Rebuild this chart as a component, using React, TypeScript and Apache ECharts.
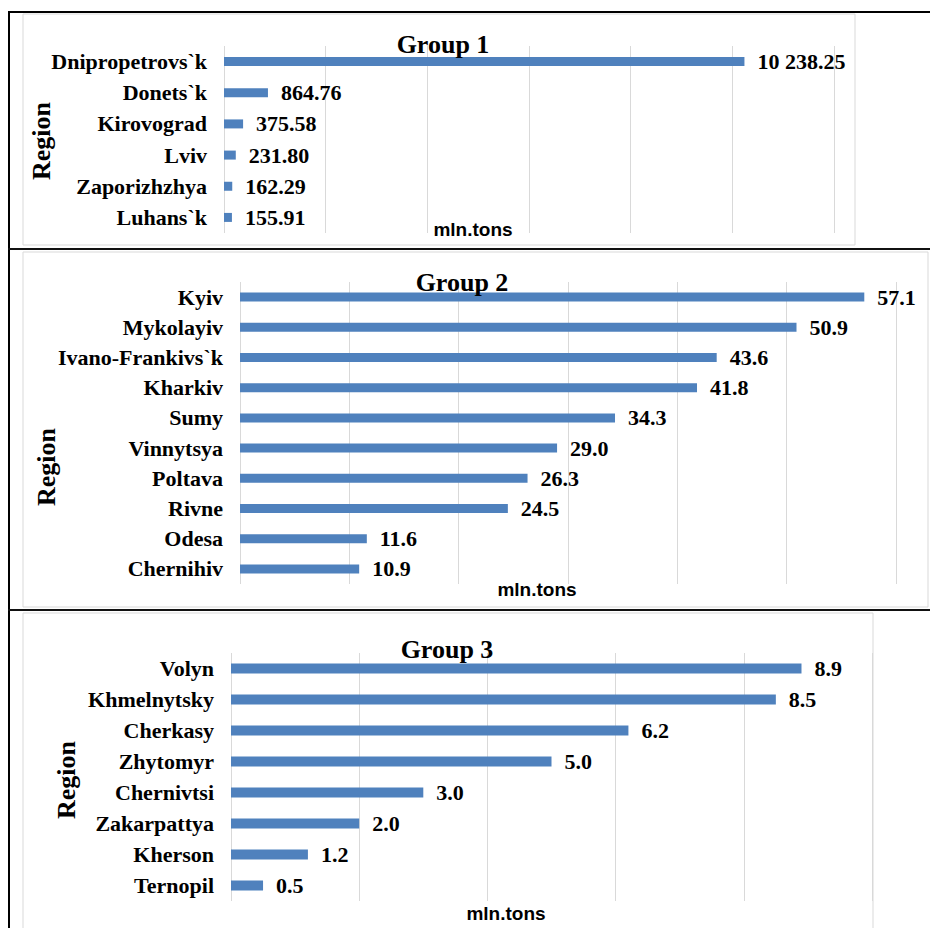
import React, { useEffect, useRef } from "react";
import * as echarts from "echarts";

const g1Regions = ["Dnipropetrovs`k", "Donets`k", "Kirovograd", "Lviv", "Zaporizhzhya", "Luhans`k"];
const g1Values = [10238.25, 864.76, 375.58, 231.8, 162.29, 155.91];

const g2Regions = ["Kyiv", "Mykolayiv", "Ivano-Frankivs`k", "Kharkiv", "Sumy", "Vinnytsya", "Poltava", "Rivne", "Odesa", "Chernihiv"];
const g2Values = [57.1, 50.9, 43.6, 41.8, 34.3, 29.0, 26.3, 24.5, 11.6, 10.9];

const g3Regions = ["Volyn", "Khmelnytsky", "Cherkasy", "Zhytomyr", "Chernivtsi", "Zakarpattya", "Kherson", "Ternopil"];
const g3Values = [8.9, 8.5, 6.2, 5.0, 3.0, 2.0, 1.2, 0.5];

const groupTitles = ["Group 1", "Group 2", "Group 3"];
const unitLabel = "mln.tons";
const axisTitle = "Region";

const SERIF = "'Liberation Serif', 'Times New Roman', serif";
const SANS = "'Liberation Sans', Arial, sans-serif";
const BAR = "#4F81BD";
const GRID = "#d9d9d9";

function fmt2(v: number): string {
  const [i, d] = v.toFixed(2).split(".");
  return i.replace(/\B(?=(\d{3})+(?!\d))/g, " ") + "." + d;
}

export default function App() {
  const ref = useRef<HTMLDivElement>(null);
  useEffect(() => {
    if (!ref.current) return;
    const chart = echarts.init(ref.current, undefined, { renderer: "svg" });

    const labelStyle = {
      fontFamily: SERIF,
      fontWeight: "bold" as const,
      fontSize: 22,
      color: "#000",
    };

    const xAxisBase = {
      type: "value" as const,
      axisLabel: { show: false },
      axisLine: { show: false },
      axisTick: { show: false },
      splitLine: { show: true, lineStyle: { color: GRID, width: 1 } },
    };
    const yAxisBase = {
      type: "category" as const,
      inverse: true,
      axisLine: { show: false },
      axisTick: { show: false },
      axisLabel: { ...labelStyle, margin: 17 },
    };

    const titleStyle = { fontFamily: SERIF, fontWeight: "bold", fontSize: 26, color: "#000" };

    const option: any = {
      animation: false,
      backgroundColor: "#fff",
      title: [
        { text: groupTitles[0], left: 443, top: 31, textAlign: "center", padding: 0, textStyle: titleStyle },
        { text: groupTitles[1], left: 462, top: 269, textAlign: "center", padding: 0, textStyle: titleStyle },
        { text: groupTitles[2], left: 447, top: 636, textAlign: "center", padding: 0, textStyle: titleStyle },
      ],
      grid: [
        { left: 224, right: 96, top: 46, bottom: 695, containLabel: false },
        { left: 240, right: 34, top: 282, bottom: 344, containLabel: false },
        { left: 231, right: 58, top: 653, bottom: 27, containLabel: false },
      ],
      xAxis: [
        { ...xAxisBase, gridIndex: 0, min: 0, max: 12000, interval: 2000 },
        { ...xAxisBase, gridIndex: 1, min: 0, max: 60, interval: 10 },
        { ...xAxisBase, gridIndex: 2, min: 0, max: 10, interval: 2 },
      ],
      yAxis: [
        { ...yAxisBase, gridIndex: 0, data: g1Regions },
        { ...yAxisBase, gridIndex: 1, data: g2Regions },
        { ...yAxisBase, gridIndex: 2, data: g3Regions },
      ],
      series: [
        {
          type: "bar", xAxisIndex: 0, yAxisIndex: 0, data: g1Values, barWidth: 9,
          itemStyle: { color: BAR },
          label: { show: true, position: "right", distance: 13, ...labelStyle, formatter: (p: any) => fmt2(p.value) },
        },
        {
          type: "bar", xAxisIndex: 1, yAxisIndex: 1, data: g2Values, barWidth: 9,
          itemStyle: { color: BAR },
          label: { show: true, position: "right", distance: 13, ...labelStyle, formatter: (p: any) => Number(p.value).toFixed(1) },
        },
        {
          type: "bar", xAxisIndex: 2, yAxisIndex: 2, data: g3Values, barWidth: 10,
          itemStyle: { color: BAR },
          label: { show: true, position: "right", distance: 13, ...labelStyle, formatter: (p: any) => Number(p.value).toFixed(1) },
        },
      ],
      graphic: [
        // inner chart-area frames
        { type: "rect", z: -1, shape: { x: 23, y: 14, width: 832, height: 231 }, style: { fill: "none", stroke: GRID, lineWidth: 1 } },
        { type: "rect", z: -1, shape: { x: 23, y: 252, width: 905, height: 355 }, style: { fill: "none", stroke: GRID, lineWidth: 1 } },
        { type: "rect", z: -1, shape: { x: 23, y: 613, width: 850, height: 330 }, style: { fill: "none", stroke: GRID, lineWidth: 1 } },
        // outer black frame and separators
        { type: "line", shape: { x1: 9, y1: 12, x2: 9, y2: 928 }, style: { stroke: "#000", lineWidth: 2 } },
        { type: "line", shape: { x1: 8, y1: 12, x2: 930, y2: 12 }, style: { stroke: "#000", lineWidth: 2 } },
        { type: "line", shape: { x1: 8, y1: 249, x2: 930, y2: 249 }, style: { stroke: "#111", lineWidth: 2 } },
        { type: "line", shape: { x1: 8, y1: 610, x2: 930, y2: 610 }, style: { stroke: "#111", lineWidth: 2 } },
        // axis titles
        { type: "text", x: 41, y: 141, rotation: Math.PI / 2, style: { text: axisTitle, font: `bold 26px ${SERIF}`, fill: "#000", align: "center", verticalAlign: "middle" } },
        { type: "text", x: 46, y: 467, rotation: Math.PI / 2, style: { text: axisTitle, font: `bold 26px ${SERIF}`, fill: "#000", align: "center", verticalAlign: "middle" } },
        { type: "text", x: 66, y: 780, rotation: Math.PI / 2, style: { text: axisTitle, font: `bold 26px ${SERIF}`, fill: "#000", align: "center", verticalAlign: "middle" } },
        { type: "text", x: 473, y: 229, style: { text: unitLabel, font: `bold 19px ${SANS}`, fill: "#000", align: "center", verticalAlign: "middle" } },
        { type: "text", x: 537, y: 589, style: { text: unitLabel, font: `bold 19px ${SANS}`, fill: "#000", align: "center", verticalAlign: "middle" } },
        { type: "text", x: 506, y: 913, style: { text: unitLabel, font: `bold 19px ${SANS}`, fill: "#000", align: "center", verticalAlign: "middle" } },
      ],
    };

    chart.setOption(option);
    return () => chart.dispose();
  }, []);

  return (
    <div
      ref={ref}
      style={{ position: "fixed", left: 0, top: 0, width: 930, height: 928, background: "#fff" }}
    />
  );
}
